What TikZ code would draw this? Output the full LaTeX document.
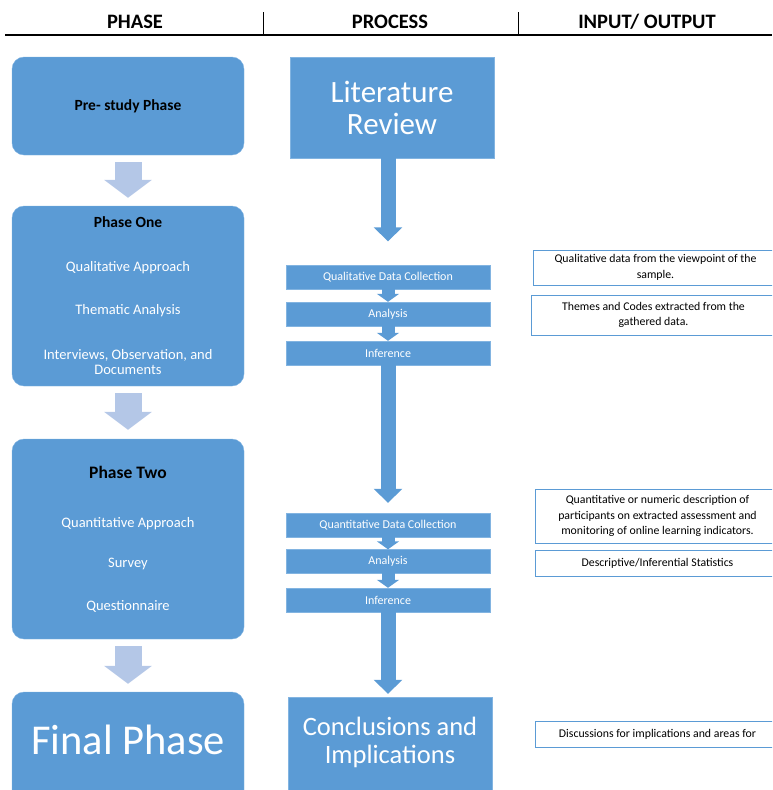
\documentclass[tikz,border=0pt]{standalone}
\usepackage{fontspec}
\setmainfont{Carlito}
\usetikzlibrary{arrows.meta,positioning}
\definecolor{mmblue}{RGB}{91,155,213}
\definecolor{mmedge}{RGB}{130,180,225}
\definecolor{mmpale}{RGB}{180,199,231}
\definecolor{mmline}{RGB}{91,155,213}
\tikzset{
  mmphase/.style={draw=mmedge, fill=mmblue, rounded corners=12pt, minimum width=232pt, inner sep=0pt},
  mmproc/.style={draw=mmedge, fill=mmblue, minimum width=204pt, inner sep=0pt, text=white, align=center},
  mmstep/.style={draw=mmedge, fill=mmblue, minimum width=204pt, minimum height=24pt, inner sep=0pt, text=white, font=\fontsize{12}{14}\selectfont},
  mmio/.style={draw=mmline, line width=1pt, fill=white, anchor=west, minimum width=244pt, inner sep=0pt, align=center, font=\fontsize{11.8}{15.5}\selectfont},
  mmhead/.style={font=\fontsize{20.5}{22}\selectfont\bfseries},
  mmtitle/.style={font=\fontsize{15.5}{17}\selectfont\bfseries},
  mmtxt/.style={text=white, font=\fontsize{14.5}{15}\selectfont, align=center},
  mmpalearr/.style={draw=mmpale, line width=27pt, -{Triangle[length=18pt 0, width=47pt 0]}},
  mmarr/.style={draw=mmblue, line width=15pt, -{Triangle[length=14pt 0, width=28pt 0]}},
  mmsmall/.style={draw=mmblue, line width=13pt, -{Triangle[length=8pt 0, width=22pt 0]}}
}

\begin{document}
\begin{tikzpicture}[x=1pt, y=-1pt]
  \useasboundingbox (0,0) rectangle (772,790);
  \clip (0,0) rectangle (772,790);

  % column heads
  \node[mmhead] (hphase) at (135,22) {PHASE};
  \node[mmhead] (hproc) at (390,22) {PROCESS};
  \node[mmhead] (hio) at (647,22) {INPUT/ OUTPUT};
  \draw[line width=1.2pt] (5,35) -- (772,35);
  \draw (263,12) -- (263,35);
  \draw (518,12) -- (518,35);

  % phases
  \node[mmphase, minimum height=98pt, mmtitle] (pre) at (128,106) {Pre- study Phase};

  \node[mmphase, minimum height=180pt] (one) at (128,296) {};
  \node[mmtitle] (onet) at (128,222) {Phase One};
  \node[mmtxt] (one1) at (128,268) {Qualitative Approach};
  \node[mmtxt] (one2) at (128,311) {Thematic Analysis};
  \node[mmtxt] (one3) at (128,362) {Interviews, Observation, and\\Documents};

  \node[mmphase, minimum height=200pt] (two) at (128,539) {};
  \node[mmtitle, font=\fontsize{17.5}{19}\selectfont\bfseries] (twot) at (128,472) {Phase Two};
  \node[mmtxt] (two1) at (128,524) {Quantitative Approach};
  \node[mmtxt] (two2) at (128,564) {Survey};
  \node[mmtxt] (two3) at (128,606) {Questionnaire};

  \node[mmphase, minimum height=120pt] (fin) at (128,752) {};
  \node[text=white, font=\fontsize{42.5}{44}\selectfont] (fint) at (128,740) {Final Phase};

  \draw[mmpalearr, shorten <=7pt, shorten >=8pt] (pre) -- (one);
  \draw[mmpalearr, shorten <=7pt, shorten >=9pt] (one) -- (two);
  \draw[mmpalearr, shorten <=7pt, shorten >=8pt] (two) -- (fin);

  % process
  \node[mmproc, minimum height=101pt, font=\fontsize{31}{32}\selectfont] (lit) at (392,107.5) {Literature\\Review};

  \node[mmstep] (qlcoll) at (388,277.5) {Qualitative Data Collection};
  \node[mmstep] (qlana) at (388,314) {Analysis};
  \node[mmstep] (qlinf) at (388,353) {Inference};

  \node[mmstep] (qncoll) at (388,525) {Quantitative Data Collection};
  \node[mmstep] (qnana) at (388,561.5) {Analysis};
  \node[mmstep] (qninf) at (388,600) {Inference};

  \node[mmproc, minimum height=110pt] (concl) at (390,752) {};
  \node[text=white, align=center, font=\fontsize{26.5}{28}\selectfont] (conclt) at (390,742) {Conclusions and\\Implications};

  \draw[mmarr, shorten >=24pt] (lit.south -| qlcoll) -- (qlcoll);
  \draw[mmsmall, shorten <=-2pt] (qlcoll) -- (qlana);
  \draw[mmsmall, shorten <=-2pt] (qlana) -- (qlinf);
  \draw[mmarr, shorten >=10pt] (qlinf) -- (qncoll);
  \draw[mmsmall, shorten <=-2pt] (qncoll) -- (qnana);
  \draw[mmsmall, shorten <=-2pt] (qnana) -- (qninf);
  \draw[mmarr, shorten >=3pt] (qninf) -- (qninf |- concl.north);

  % input / output
  \node[mmio, minimum height=35pt] (io1) at (533,267.5) {Qualitative data from the viewpoint of the\\sample.};
  \node[mmio, minimum height=40pt] (io2) at (531,315) {Themes and Codes extracted from the\\gathered data.};
  \node[mmio, minimum height=54pt] (io3) at (535,516) {Quantitative or numeric description of\\participants on extracted assessment and\\monitoring of online learning indicators.};
  \node[mmio, minimum height=26pt] (io4) at (535,563) {Descriptive/Inferential Statistics};
  \node[mmio, minimum height=26pt] (io5) at (535,734) {Discussions for implications and areas for};
\end{tikzpicture}
\end{document}
